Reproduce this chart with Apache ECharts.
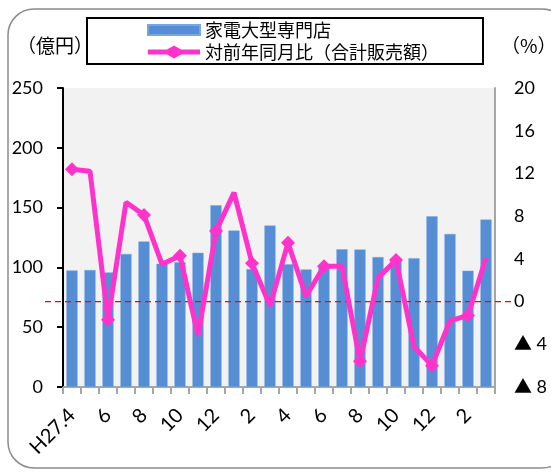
<!DOCTYPE html>
<html><head><meta charset="utf-8">
<script src="https://cdn.jsdelivr.net/npm/echarts@6/dist/echarts.min.js"></script>
<style>html,body{margin:0;padding:0;background:#fff}#c{width:551px;height:472px}</style>
</head><body><div id="c"></div>
<script>
const categories = ['H27.4','H27.5','H27.6','H27.7','H27.8','H27.9','H27.10','H27.11','H27.12',
  'H28.1','H28.2','H28.3','H28.4','H28.5','H28.6','H28.7','H28.8','H28.9','H28.10','H28.11','H28.12',
  'H29.1','H29.2','H29.3'];
const salesValues = [97.5, 97.8, 95.8, 111.3, 121.7, 103, 104.4, 112.2, 151.9, 130.8, 98.6, 135,
  102.7, 98.3, 102, 115.2, 115, 108.6, 107.5, 107.7, 142.7, 128, 97.2, 140];
const yoyValues = [12.4, 12.2, -1.7, 9.3, 8.1, 3.5, 4.3, -3.2, 6.6, 10.2, 3.6, -0.4,
  5.5, 0.5, 3.3, 3.3, -5.6, 2.2, 3.9, -4.2, -6.0, -1.8, -1.3, 4.1];
const leftTicks = {min: 0, max: 250, interval: 50};
const rightTicks = {min: -8, max: 20, interval: 4};
const seriesNames = ['家電大型専門店', '対前年同月比（合計販売額）'];

const FONT = "Lato, 'Noto Sans CJK JP', sans-serif";
const BAR_ICON = 'path://M0,0 L0,0 Z M0,1.5 L52,1.5 L52,11.5 L0,11.5 Z M52,13 L52,13 Z';
const LINE_ICON = 'path://M0,4 L19,4 L26,0 L33,4 L52,4 L52,9 L33,9 L26,13 L19,9 L0,9 Z';
const chart = echarts.init(document.getElementById('c'));
chart.setOption({
  animation: false,
  backgroundColor: '#fff',
  grid: {left: 63, right: 56, top: 88, bottom: 85, show: true, backgroundColor: '#f2f2f2', borderWidth: 0},
  legend: {
    orient: 'vertical', left: 87, top: 18, padding: [3, 44, 3, 60], itemGap: 4,
    itemWidth: 52, itemHeight: 13, borderColor: '#000', borderWidth: 2, backgroundColor: '#fff',
    textStyle: {fontSize: 18, color: '#000', fontFamily: "'Noto Sans CJK JP', sans-serif"},
    data: [{name: seriesNames[0], icon: BAR_ICON}, {name: seriesNames[1], icon: LINE_ICON}]
  },
  xAxis: {
    type: 'category', data: categories, boundaryGap: true,
    axisLine: {lineStyle: {color: '#a6a6a6', width: 2}},
    axisTick: {show: true, interval: 0, length: 7, lineStyle: {color: '#a6a6a6', width: 2}},
    axisLabel: {interval: 1, rotate: 45, fontSize: 20, color: '#000', fontFamily: FONT, margin: 25,
      formatter: (v, i) => i === 0 ? v : v.split('.')[1]}
  },
  yAxis: [
    {type: 'value', min: leftTicks.min, max: leftTicks.max, interval: leftTicks.interval,
      axisLine: {show: true, lineStyle: {color: '#000', width: 2}},
      axisTick: {show: true, length: 6, lineStyle: {color: '#000', width: 2}},
      splitLine: {show: false},
      axisLabel: {margin: 20, fontSize: 18, color: '#000', fontFamily: FONT}},
    {type: 'value', min: rightTicks.min, max: rightTicks.max, interval: rightTicks.interval, position: 'right',
      axisLine: {show: true, lineStyle: {color: '#a6a6a6', width: 2}},
      axisTick: {show: false}, splitLine: {show: false},
      axisLabel: {margin: 19, fontSize: 18, color: '#000', fontFamily: FONT,
        formatter: v => v < 0 ? '▲ ' + (-v) : String(v)}}
  ],
  series: [
    {name: seriesNames[0], type: 'bar', data: salesValues, barWidth: '62%',
      itemStyle: {color: '#558ed5', borderColor: '#7aa6e0', borderWidth: 0.5}, z: 2},
    {name: seriesNames[1], type: 'line', yAxisIndex: 1, data: yoyValues,
      lineStyle: {color: '#ff33cc', width: 5}, itemStyle: {color: '#ff33cc'},
      symbol: 'diamond', symbolSize: 14, z: 10}
  ]
});
const y0 = chart.convertToPixel({yAxisIndex: 1}, 0);
chart.setOption({
  graphic: [
    {type: 'rect', id: 'frame', shape: {x: 8, y: 9, width: 560, height: 459, r: 26},
      style: {fill: 'none', stroke: '#8c8c8c', lineWidth: 1.5}, z: 0, silent: true},
    {type: 'text', id: 'uL', left: 17, top: 36,
      style: {text: '（億円）', font: "19px 'Noto Sans CJK JP'", fill: '#000'}},
    {type: 'text', id: 'uR', left: 501, top: 36,
      style: {text: '（%）', font: "19px 'Noto Sans CJK JP'", fill: '#000'}},
    {type: 'line', id: 'zero', shape: {x1: 45, y1: y0, x2: 513, y2: y0},
      style: {stroke: '#ff0000', lineWidth: 1.2, lineDash: [6, 4]}, z: 5, silent: true}
  ]
});
</script></body></html>
